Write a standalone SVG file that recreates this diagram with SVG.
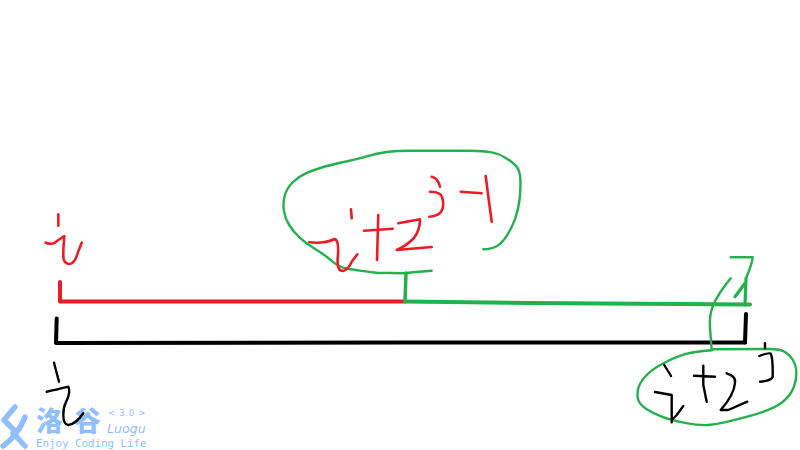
<svg xmlns="http://www.w3.org/2000/svg" width="800" height="450" viewBox="0 0 800 450">
<style>
.s{fill:none;stroke-linecap:round;stroke-linejoin:round}
.r{stroke:#ed1c24;stroke-width:2.6}
.g{stroke:#22b14c;stroke-width:2.4}
.k{stroke:#000;stroke-width:2.4}
.logo{fill:#8fbfff}
.icon{fill:none;stroke:#8fbfff;stroke-width:5.5;stroke-linecap:round;stroke-linejoin:round}
</style>
<rect width="800" height="450" fill="#fff"/>
<g id="logo">
<path class="icon" d="M15 407L4 420L13 429M25 417C20 430 13 439 3 446M13 433L25 446"/>
<text class="logo" x="36 74" y="431" font-size="27" font-weight="900" font-family="'Noto Sans CJK SC',sans-serif">洛谷</text>
<text class="logo" x="108" y="416" font-size="8.5" letter-spacing="0.7" font-family="'DejaVu Sans',sans-serif">&lt; 3.0 &gt;</text>
<text class="logo" x="107" y="433" font-size="12.5" letter-spacing="0.1" font-style="italic" font-family="'DejaVu Sans',sans-serif">Luogu</text>
<text class="logo" x="36" y="447" font-size="10.8" font-family="'DejaVu Sans Mono',monospace">Enjoy Coding Life</text>
</g>
<g id="segments">
<polyline class="s" stroke="#ed1c24" stroke-width="4" points="60,282 60,301.5 405,301.5"/>
<polyline class="s" stroke="#22b14c" stroke-width="4" points="405,301.5 530,303 750,304.5"/>
<polyline class="s" stroke="#22b14c" stroke-width="3.5" points="406,273 405,301"/>
<polyline class="s" stroke="#000" stroke-width="4" points="56.7,318.5 56,343 402,342.5 745,342.5"/>
<polyline class="s" stroke="#000" stroke-width="4" points="746,314 745,342.5"/>
</g>
<g id="bubble-mid">
<path class="s g" d="M431.7 270.7L413.3 272.3L405 273.3L376.7 272.7Q353.3 270 345.8 268.4Q338.3 266.7 331.7 260.9Q325 255 315.9 249.5Q306.7 244 300 237.9Q293.3 231.7 289.2 225Q285 218.3 283.9 210.8Q282.7 203.3 284.7 195.8Q286.7 188.3 292.5 182.5Q298.3 176.7 305.8 173.4Q313.3 170 323.3 167Q333.3 164 345 161.7Q356.7 159.3 366.7 156.3Q376.7 153.3 386.7 152Q396.7 150.7 410 150.7L470 150.7Q483.3 150.7 491.7 152.4Q500 154 505.9 157.9Q511.7 161.7 515.9 165.9Q520 170 520.4 180Q520.7 190 519.5 200Q518.3 210 515 219.2Q511.7 228.3 506.7 235.8Q501.7 243.3 496.7 246.2Q491.7 249 483.3 249.3"/>
<path class="s r" d="M351 209.3L351.7 218.3M309.3 242.3Q323.3 244 335 239Q339 241 338 255Q336 271 343 271Q348 270 351.7 261.7L357.3 254.3"/>
<path class="s r" d="M364 230.7L392.7 228.7M378.3 215L377 260"/>
<path class="s r" d="M398.3 223.3L420 219.3Q420 230 414 238Q406 246 396.7 250L431.7 247"/>
<path class="s r" d="M431.7 176.7Q438 178 440 186.7M430 191.7Q441 192 442 197Q445 206 441 212Q438 216 429.3 216.7"/>
<path class="s r" d="M460.7 191.7L481.7 193.3M485.7 176L488.3 196.7L491.7 221.7"/>
</g>
<g id="label-i-top">
<path class="s r" d="M58.3 214.3L58.3 225.7M45.7 242.7Q51.7 245 55 242.5Q58.3 240 64.3 236Q63.3 248 63.3 255Q63 264 70 264Q75 263 78 252L81.7 242.7"/>
</g>
<g id="label-i-bottom">
<path class="s k" d="M54 362.7L59 381.7M46.7 391.7Q55 390 68.3 386.7Q71 392 66 402Q63 408 63.3 415Q63.5 425 68.3 425Q76 424 83.3 413.3"/>
</g>
<g id="label-j-top">
<path class="s g" d="M730.7 257.3L752.7 257.3Q752 264 746 278.3"/>
<path class="s" stroke="#22b14c" stroke-width="3.2" d="M746 278.3L745 305M735 296.7L745 283.3"/>
<path class="s g" d="M730.7 278.3Q718 294 713.3 305Q709 315 710 328L711.7 350"/>
</g>
<g id="bubble-right">
<path class="s g" d="M711.7 350.3Q693.3 351.7 685 354.2Q676.7 356.7 665 362.5Q653.3 368.3 646.7 375Q640 381.7 638.3 388.3Q636.7 395 638.3 400Q640 405 646.7 409.2Q653.3 413.3 661.7 416.7Q670 420 685 422.9Q700 425.7 708.3 425Q716.7 424.3 725.8 422.2Q735 420 747.5 416.7Q760 413.3 770 409.2Q780 405 785.8 399.2Q791.7 393.3 794.2 385.8Q796.7 378.3 796.3 371.7Q796 365 793 360Q790 355 785 352Q780 349 770 349L713.3 349.3"/>
<path class="s k" d="M664.3 365L671 376M655 392L671.7 395L671.7 408L671.7 422.3M671.7 420L676.7 415L683.3 406"/>
<path class="s k" d="M694 375.7L715 376.7M703.3 365.7L703.3 385L706.7 401.7"/>
<path class="s k" d="M726.7 373.3Q736 376 735 383Q734 395 720.7 410L728.3 410L747.3 401.7"/>
<path class="s k" d="M765 343.3L765 348.3M759.3 356Q770 352 771 354Q773 360 772.7 376.7Q771 381 760 381.7"/>
</g>
</svg>
